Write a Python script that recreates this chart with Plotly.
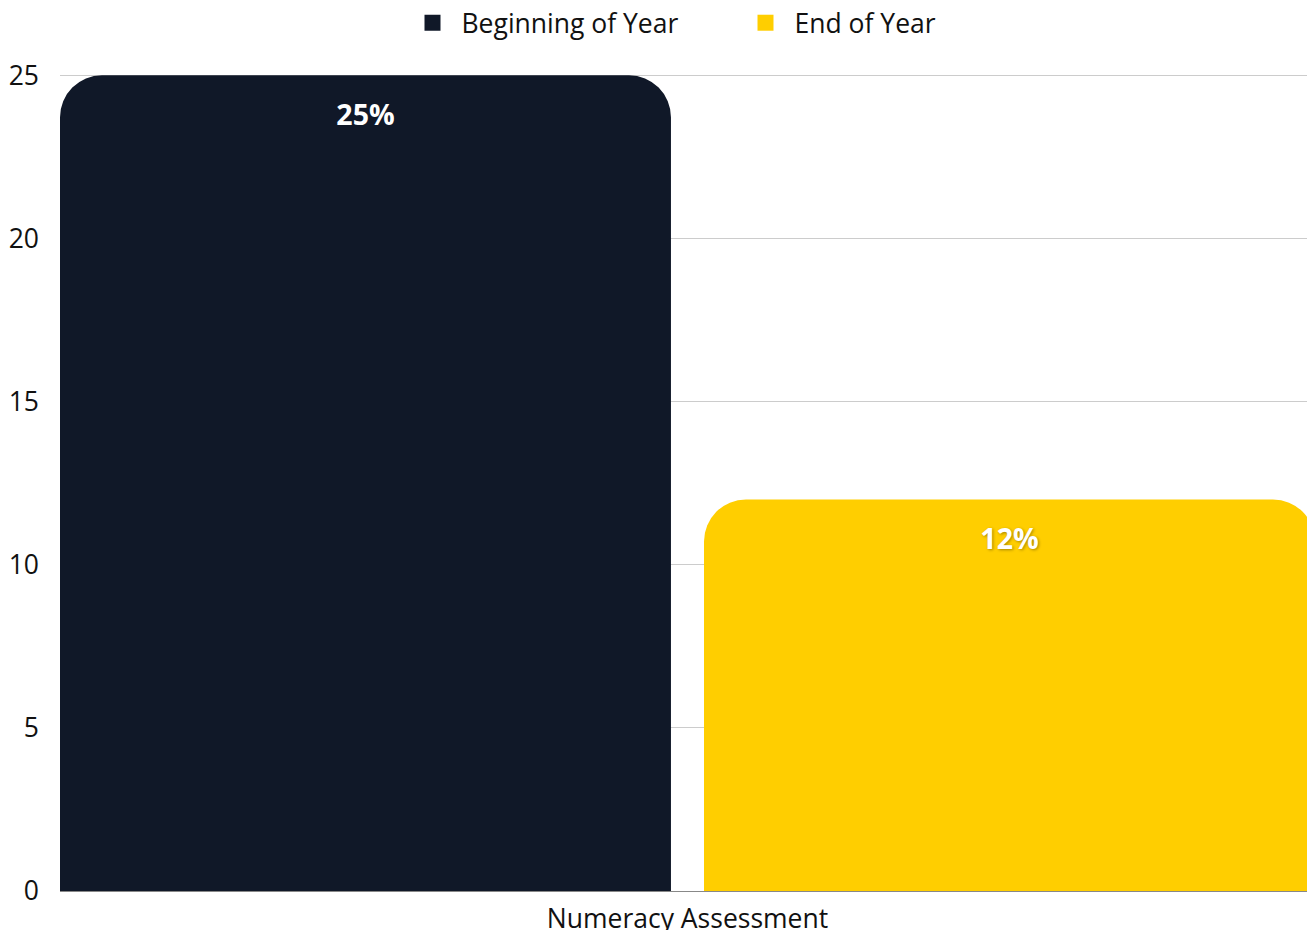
import plotly.graph_objects as go

categories = ["Numeracy Assessment"]
series_names = ["Beginning of Year", "End of Year"]
beginning_values = [25]
end_values = [12]
beginning_labels = ["25%"]
end_labels = ["12%"]
y_ticks = [0, 5, 10, 15, 20, 25]

DARK = "#101828"
YELLOW = "#FFCE00"
FONT = "Open Sans"

fig = go.Figure()

def add_series(name, values, labels, color, group, shadow):
    # visible bar with rounded top corners
    fig.add_trace(go.Bar(
        name=name, x=categories, y=values, offsetgroup=group,
        marker=dict(color=color, cornerradius=42, line=dict(width=0)),
        showlegend=False, hoverinfo="skip",
    ))
    # transparent twin carrying the label
    fig.add_trace(go.Bar(
        name=name, x=categories, y=values, offsetgroup=group,
        text=labels, textposition="inside", insidetextanchor="end",
        textfont=dict(family=FONT, size=28.5, color="white", weight="bold",
                      shadow=shadow),
        marker=dict(color="rgba(0,0,0,0)", cornerradius=20, line=dict(width=0)),
        showlegend=False,
    ))
    # legend entry with a square symbol
    fig.add_trace(go.Scatter(
        name=name, x=[None], y=[None], mode="markers",
        marker=dict(symbol="square", size=18, color=color),
        showlegend=True,
    ))

add_series(series_names[0], beginning_values, beginning_labels, DARK, "a", "none")
add_series(series_names[1], end_values, end_labels, YELLOW, "b",
           "1px 1px 3px rgba(0,0,0,0.35)")

g = 0.0513
left = -0.5 + g * 0.5 / 2
fig.update_layout(
    width=1307, height=930,
    margin=dict(l=60, r=0, t=74, b=39),
    paper_bgcolor="white", plot_bgcolor="white",
    barmode="group", bargap=0, bargroupgap=g,
    font=dict(family=FONT, size=26.5, color="#111111"),
    uniformtext=dict(mode="show", minsize=10),
    legend=dict(orientation="h", x=0.5 + 53 / 1247, xanchor="center",
                yref="container", y=1 - 23 / 930, yanchor="middle",
                font=dict(size=26.5), itemwidth=48, traceorder="normal",
                entrywidth=270, entrywidthmode="pixels"),
    showlegend=True,
)
fig.update_xaxes(
    type="category", range=[left, left + 1247 / 1288],
    showgrid=False, showline=True, linecolor="#888888", linewidth=1,
    tickfont=dict(size=26.5), ticks="", ticklabelstandoff=4, automargin=False,
)
fig.update_yaxes(
    range=[0, 25.04], tickvals=y_ticks, showgrid=True, gridcolor="#CCCCCC",
    gridwidth=1, zeroline=False, showline=False, ticks="",
    ticklabelstandoff=20, tickfont=dict(size=26.5), automargin=False,
)

fig.write_html(
    "out.html",
    config={"displayModeBar": False},
    post_script="document.body.style.margin='0';document.body.style.overflow='hidden';",
)
